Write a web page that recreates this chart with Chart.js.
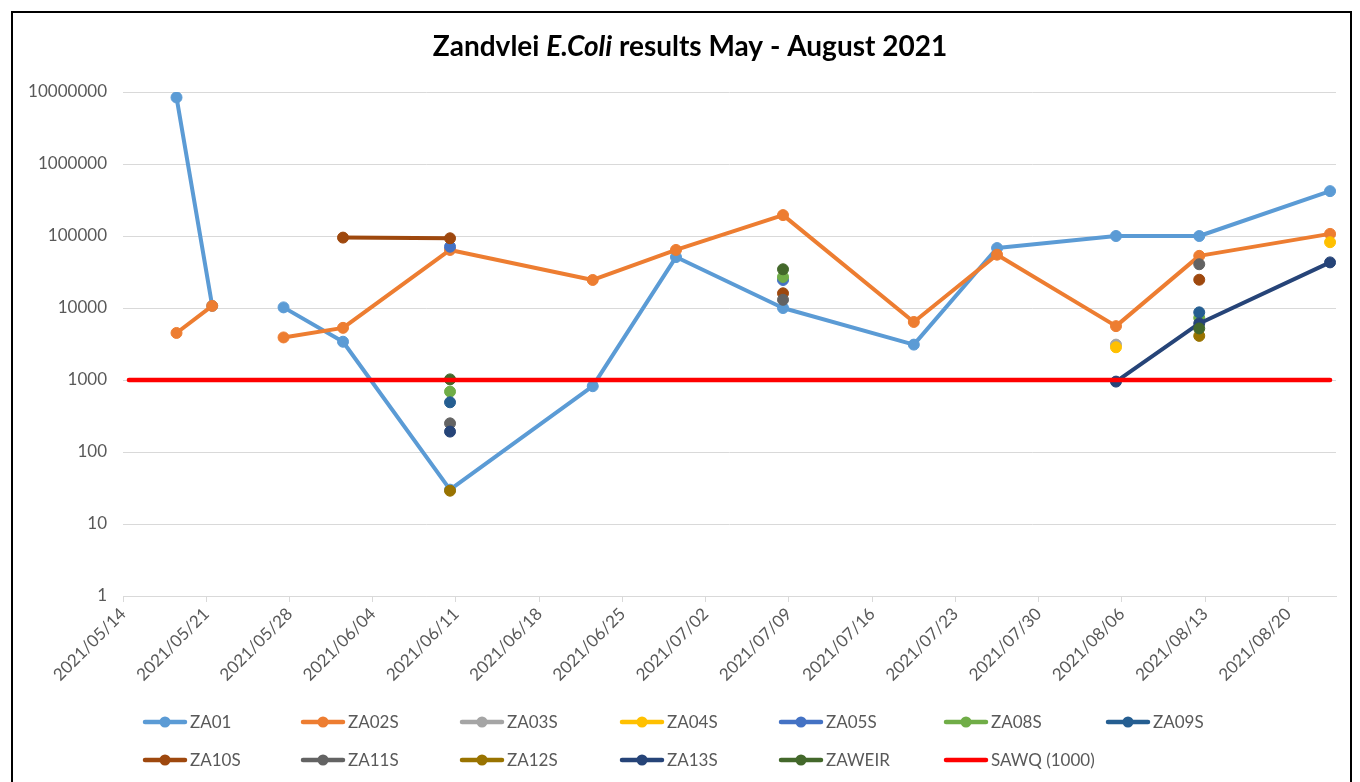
<!DOCTYPE html>
<html><head><meta charset="utf-8">
<script src="https://cdn.jsdelivr.net/npm/chart.js@4.4.1/dist/chart.umd.min.js"></script>
<style>
html,body{margin:0;padding:0;background:#fff;}
#wrap{position:relative;width:1360px;height:782px;overflow:hidden;background:#fff;}
#frame{position:absolute;left:11px;top:11px;width:1341px;height:800px;border:2px solid #000;box-sizing:border-box;pointer-events:none;}
canvas{position:absolute;left:0;top:0;}
</style></head><body>
<div id="wrap"><canvas id="c" width="1360" height="782"></canvas><div id="frame"></div></div>
<script>
// ---- data ----
const sampleDates = ['2021-05-18','2021-05-21','2021-05-24','2021-05-27','2021-06-01','2021-06-10','2021-06-22','2021-06-29','2021-07-08','2021-07-19','2021-07-26','2021-08-05','2021-08-12','2021-08-23'];
const ZA01   = [8400000, 10700, null, 10200, 3400, 30, 820, 51000, 10000, 3100, 68000, 100000, 100000, 420000];
const ZA02S  = [4500, 10700, null, 3900, 5300, 64000, 24500, 64000, 195000, 6400, 55000, 5600, 53000, 107000];
const ZA03S  = [null, null, null, null, null, null, null, null, null, null, null, 3100, null, null];
const ZA04S  = [null, null, null, null, null, null, null, null, null, null, null, 2850, null, 82000];
const ZA05S  = [null, null, null, null, null, 71000, null, null, 24500, null, null, null, null, null];
const ZA08S  = [null, null, null, null, null, 690, null, null, 27000, null, null, null, 7300, null];
const ZA09S  = [null, null, null, null, null, 490, null, null, null, null, null, null, 8700, null];
const ZA10S  = [null, null, null, null, 95000, 93000, null, null, 16000, null, null, null, 24700, null];
const ZA11S  = [null, null, null, null, null, 250, null, null, 13000, null, null, null, 40500, null];
const ZA12S  = [null, null, null, null, null, 29, null, null, null, null, null, null, 4100, null];
const ZA13S  = [null, null, null, null, null, 192, null, null, null, null, null, 950, 6100, 43000];
const ZAWEIR = [null, null, null, null, null, 1020, null, null, 34500, null, null, null, 5200, null];
const sawqDates  = ['2021-05-14', '2021-08-23'];
const sawqValues = [1000, 1000];
const seriesNames = ['ZA01','ZA02S','ZA03S','ZA04S','ZA05S','ZA08S','ZA09S','ZA10S','ZA11S','ZA12S','ZA13S','ZAWEIR'];
const seriesValues = [ZA01, ZA02S, ZA03S, ZA04S, ZA05S, ZA08S, ZA09S, ZA10S, ZA11S, ZA12S, ZA13S, ZAWEIR];
const sawqName = 'SAWQ (1000)';
const yTickValues = [1, 10, 100, 1000, 10000, 100000, 1000000, 10000000];
const axisStart = '2021-05-14';
const axisDays = 102;
const xTickStep = 7;

// ---- styles ----
const colors = ['#5B9BD5','#ED7D31','#A5A5A5','#FFC000','#4472C4','#70AD47','#255E91','#9E480E','#636363','#997300','#264478','#43682B'];
const FONT = 'Lato, "Open Sans", sans-serif';
const TXT = '#595959';

const DAY = 86400000;
const t0 = Date.parse(axisStart);
const dayPos = d => (Date.parse(d) - t0) / DAY + 0.5;
const pad2 = n => String(n).padStart(2, '0');
const fmtDay = v => { const d = new Date(t0 + v * DAY); return d.getUTCFullYear() + '/' + pad2(d.getUTCMonth() + 1) + '/' + pad2(d.getUTCDate()); };

const datasets = seriesNames.map((name, i) => ({
  label: name,
  data: sampleDates.map((d, k) => ({ x: dayPos(d), y: seriesValues[i][k] })),
  borderColor: colors[i], backgroundColor: colors[i],
  pointBackgroundColor: colors[i], pointBorderColor: colors[i],
  borderWidth: 4, pointRadius: 5.5, pointBorderWidth: 1,
  borderJoinStyle: 'round', borderCapStyle: 'round',
  spanGaps: false, order: -i
}));
datasets.push({
  label: sawqName,
  data: sawqDates.map((d, k) => ({ x: dayPos(d), y: sawqValues[k] })),
  borderColor: '#FF0000', backgroundColor: '#FF0000', pointBackgroundColor: '#FF0000',
  borderWidth: 4.5, pointRadius: 0, borderCapStyle: 'round', order: -20
});

const titlePlugin = {
  id: 'mixedTitle',
  afterDraw(chart) {
    const ctx = chart.ctx;
    const parts = [['Zandvlei ', 'bold'], ['E.Coli', 'italic bold'], [' results May - August 2021', 'bold']];
    const size = 28;
    ctx.save();
    ctx.fillStyle = '#000';
    ctx.textBaseline = 'middle';
    let total = 0;
    parts.forEach(p => { ctx.font = p[1] + ' ' + size + 'px ' + FONT; total += ctx.measureText(p[0]).width; });
    let x = 690 - total / 2;
    parts.forEach(p => { ctx.font = p[1] + ' ' + size + 'px ' + FONT; ctx.fillText(p[0], x, 47); x += ctx.measureText(p[0]).width; });
    ctx.restore();
  }
};

const legendPlugin = {
  id: 'gridLegend',
  afterDraw(chart) {
    const ctx = chart.ctx;
    const cols = [143, 301, 460, 620, 779, 944, 1106];
    const rows = [722, 760];
    chart.data.datasets.forEach((ds, i) => {
      const x = cols[i % 7], y = rows[Math.floor(i / 7)];
      ctx.save();
      ctx.strokeStyle = ds.borderColor; ctx.lineWidth = 4.5; ctx.lineCap = 'round';
      ctx.beginPath(); ctx.moveTo(x + 2, y); ctx.lineTo(x + 42, y); ctx.stroke();
      if (ds.pointRadius > 0) {
        ctx.fillStyle = ds.pointBackgroundColor;
        ctx.beginPath(); ctx.arc(x + 22, y, 5.5, 0, Math.PI * 2); ctx.fill();
      }
      ctx.fillStyle = TXT; ctx.font = '17px ' + FONT; ctx.textBaseline = 'middle';
      ctx.fillText(ds.label, x + 47, y + 1);
      ctx.restore();
    });
  }
};

new Chart(document.getElementById('c'), {
  type: 'line',
  data: { datasets },
  plugins: [titlePlugin, legendPlugin],
  options: {
    responsive: false, animation: false,
    layout: { padding: { left: 0, right: 24, top: 92, bottom: 76 } },
    plugins: { legend: { display: false }, title: { display: false }, tooltip: { enabled: false } },
    scales: {
      x: {
        type: 'linear', min: 0, max: axisDays,
        afterBuildTicks: s => { const t = []; for (let v = 0; v < axisDays; v += xTickStep) t.push({ value: v }); s.ticks = t; },
        afterFit: s => { s.height = 110; },
        grid: { drawOnChartArea: false, drawTicks: true, tickLength: 6, color: '#d9d9d9', lineWidth: 1 },
        border: { display: true, color: '#d9d9d9', width: 1 },
        ticks: { autoSkip: false, minRotation: 45, maxRotation: 45, color: TXT, font: { family: FONT, size: 17 }, padding: 2, callback: v => fmtDay(v) }
      },
      y: {
        type: 'logarithmic', min: 1, max: 10000000,
        afterBuildTicks: s => { s.ticks = yTickValues.map(v => ({ value: v })); },
        afterFit: s => { s.width = 123; },
        grid: { color: '#d9d9d9', lineWidth: 1, drawTicks: false },
        border: { display: false },
        ticks: { color: TXT, font: { family: FONT, size: 17 }, padding: 16, callback: v => String(v) }
      }
    }
  }
});
</script>
</body></html>
